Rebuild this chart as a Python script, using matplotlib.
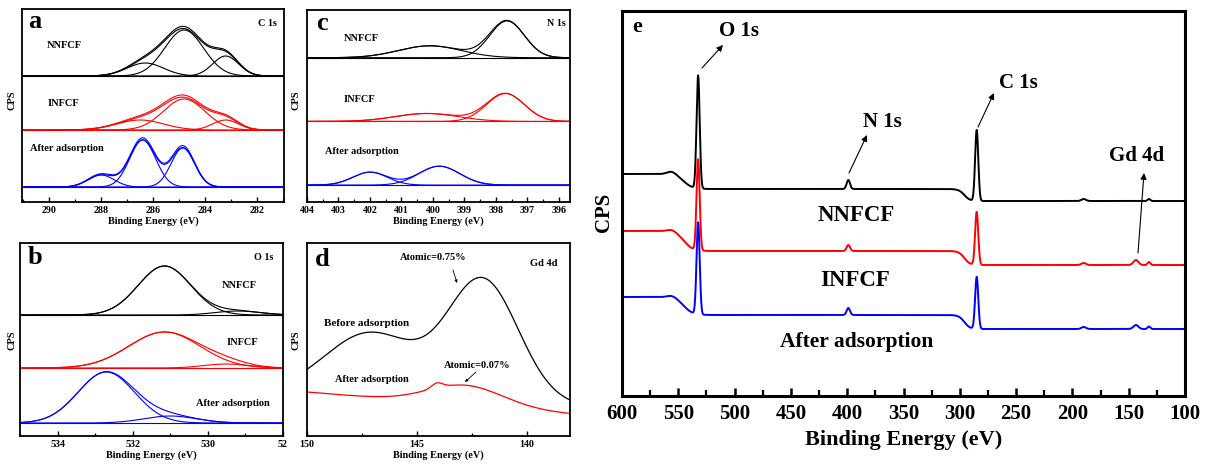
import numpy as np
import matplotlib
matplotlib.use("Agg")
import matplotlib.pyplot as plt
from matplotlib.ticker import MultipleLocator, FixedLocator

plt.rcParams['font.family'] = ['Liberation Serif', 'DejaVu Serif']
plt.rcParams['font.weight'] = 'bold'
plt.rcParams['axes.labelweight'] = 'bold'

W, H = 1213, 465

# ---------------- data ----------------
sample_labels = ["NNFCF", "INFCF", "After adsorption"]
trace_colors = ["black", "red", "blue"]

# (a) C 1s fitted components: centre (eV), height, sigma (eV); baseline level
c1s_baseline = [126, 72, 15]
c1s_centers = [[286.3, 284.8, 283.2], [286.5, 284.8, 283.2], [288.0, 286.4, 284.85]]
c1s_heights = [[13, 46, 20], [10, 31, 10], [12, 47, 39]]
c1s_sigmas = [[0.7, 0.75, 0.5], [0.9, 0.8, 0.5], [0.5, 0.5, 0.45]]
c1s_measured_heights = [[14, 48, 21], [11, 33, 11], [13, 49, 41]]

# (b) O 1s
o1s_baseline = [121, 68, 13]
o1s_centers = [[531.15, 529.2], [531.15, 529.5], [532.7, 531.0]]
o1s_heights = [[49, 4], [36, 4], [51, 7]]
o1s_sigmas = [[0.7, 0.6], [0.95, 0.6], [0.75, 0.7]]

# (c) N 1s
n1s_baseline = [145, 81, 17]
n1s_centers = [[400.1, 397.65], [400.2, 397.7], [402.0, 399.8]]
n1s_heights = [[12, 37], [8, 28], [13, 19]]
n1s_sigmas = [[1.0, 0.55], [1.0, 0.6], [0.55, 0.65]]

# (d) Gd 4d: linear background (at 150 eV, at 138 eV) + peaks
gd_labels = ["Before adsorption", "After adsorption"]
gd_background = [(42, 30), (44, 22)]
gd_centers = [[147.1, 142.0], [144.1, 142.8]]
gd_heights = [[64, 121], [5, 20]]
gd_sigmas = [[2.1, 1.61], [0.25, 1.7]]
gd_atomic = ["Atomic=0.75%", "Atomic=0.07%"]

# (e) survey spectra
survey_centers = [556, 532.4, 399, 285, 190, 143.6, 132]
survey_sigmas = [4, 1.4, 1.5, 1.4, 2.0, 2.2, 1.2]
survey_heights = [[3, 113, 9, 71, 2, 0, 2],
                  [2, 91, 6, 53, 2, 5, 3],
                  [2, 92, 7, 52, 2, 4, 2.5]]
# background levels: above O 1s step, between O 1s and C 1s, below C 1s
survey_levels = [[222, 207, 195], [165, 145, 131], [99, 81, 67]]
survey_steps = [(545, 4.0), (296, 2.5)]


def gauss(x, c, h, s):
    return h * np.exp(-0.5 * ((x - c) / s) ** 2)


def sigmoid(z):
    return 1.0 / (1.0 + np.exp(-z))


def add_axes(x0, y0, x1, y1):
    return fig.add_axes([x0 / W, 1 - y1 / H, (x1 - x0) / W, (y1 - y0) / H])


def ftext(px, py, s, size, **kw):
    fig.text(px / W, 1 - py / H, s, fontsize=size, fontweight='bold',
             ha=kw.pop('ha', 'center'), va=kw.pop('va', 'center'), **kw)


def arrow(x0, y0, x1, y1, lw=0.7, head=5):
    fig.add_artist(matplotlib.patches.FancyArrowPatch(
        (x0, H - y0), (x1, H - y1), transform=None,
        arrowstyle='-|>', mutation_scale=head, lw=lw, color='black',
        shrinkA=0, shrinkB=0))


def style_small(ax, xlim, major, minor):
    ax.set_xlim(*xlim)
    ax.set_ylim(0, 193)
    ax.set_yticks([])
    for sp in ax.spines.values():
        sp.set_linewidth(1.3)
    ax.xaxis.set_major_locator(MultipleLocator(major))
    ax.xaxis.set_minor_locator(MultipleLocator(minor))
    ax.tick_params(axis='x', which='major', direction='in', length=3.5,
                   width=1.0, labelsize=7.2, pad=3)
    ax.tick_params(axis='x', which='minor', direction='in', length=2.5, width=0.9)
    for lab in ax.get_xticklabels():
        lab.set_fontweight('bold')
    ax.set_xlabel("Binding Energy (eV)", fontsize=7.4, labelpad=1)


def draw_fit(ax, x, base, centers, heights, sigmas, color, measured=None):
    ax.plot(x, np.full_like(x, base), color=color, lw=0.8)
    total = np.zeros_like(x)
    for c, h, s in zip(centers, heights, sigmas):
        comp = gauss(x, c, h, s)
        total += comp
        ax.plot(x, base + comp, color=color, lw=0.8)
    ax.plot(x, base + total, color=color, lw=0.8)
    if measured is not None:
        meas = sum(gauss(x, c, h, s) for c, h, s in zip(centers, measured, sigmas))
        ax.plot(x, base + meas, color=color, lw=0.8)


fig = plt.figure(figsize=(W / 100, H / 100), dpi=100)

# ---------------- (a) C 1s ----------------
ax_a = add_axes(22, 9, 284, 202)
x = np.linspace(291.05, 280.95, 800)
for i in range(3):
    draw_fit(ax_a, x, c1s_baseline[i], c1s_centers[i], c1s_heights[i],
             c1s_sigmas[i], trace_colors[i], c1s_measured_heights[i])
style_small(ax_a, (291.05, 280.95), 2, 1)
ftext(12, 100, "CPS", 7.5, rotation=90)
ftext(35, 22, "a", 19)
ftext(267, 23, "C 1s", 7.3)
ftext(64, 45, sample_labels[0], 7.5)
ftext(63, 103, sample_labels[1], 7.5)
ftext(67, 148, sample_labels[2], 7.5)

# ---------------- (b) O 1s ----------------
ax_b = add_axes(20, 243, 283, 436)
x = np.linspace(535.0, 528.0, 800)
for i in range(3):
    draw_fit(ax_b, x, o1s_baseline[i], o1s_centers[i], o1s_heights[i],
             o1s_sigmas[i], trace_colors[i])
style_small(ax_b, (535.0, 527.99), 2, 1)
ax_b.xaxis.set_major_locator(FixedLocator([534, 532, 530, 528]))
ax_b.set_xticklabels(["534", "532", "530", "52"])
for lab in ax_b.get_xticklabels():
    lab.set_fontweight('bold')
ftext(12, 340, "CPS", 7.5, rotation=90)
ftext(35, 258, "b", 19)
ftext(264, 257, "O 1s", 7.3)
ftext(239, 285, sample_labels[0], 7.5)
ftext(242, 342, sample_labels[1], 7.5)
ftext(233, 403, sample_labels[2], 7.5)

# ---------------- (c) N 1s ----------------
ax_c = add_axes(307, 10, 570, 202)
x = np.linspace(404.0, 395.65, 800)
for i in range(3):
    draw_fit(ax_c, x, n1s_baseline[i], n1s_centers[i], n1s_heights[i],
             n1s_sigmas[i], trace_colors[i])
style_small(ax_c, (404.0, 395.65), 1, 0.5)
ftext(296, 100, "CPS", 7.5, rotation=90)
ftext(322, 23, "c", 19)
ftext(556, 23, "N 1s", 7.3)
ftext(361, 38, sample_labels[0], 7.5)
ftext(359, 100, sample_labels[1], 7.5)
ftext(362, 152, sample_labels[2], 7.5)

# ---------------- (d) Gd 4d ----------------
ax_d = add_axes(307, 243, 570, 436)
x = np.linspace(150.0, 138.05, 800)
for i, color in enumerate(["black", "red"]):
    b150, b138 = gd_background[i]
    y = b138 + (b150 - b138) * (x - 138.0) / 12.0
    for c, h, s in zip(gd_centers[i], gd_heights[i], gd_sigmas[i]):
        y = y + gauss(x, c, h, s)
    ax_d.plot(x, y, color=color, lw=0.9)
style_small(ax_d, (150.0, 138.05), 5, 2.5)
ftext(296, 340, "CPS", 7.5, rotation=90)
ftext(322, 260, "d", 19)
ftext(544, 264, "Gd 4d", 7.5)
ftext(433, 258, gd_atomic[0], 7.5)
arrow(453, 270, 457, 283, lw=0.6, head=4)
ftext(367, 324, gd_labels[0], 8.0)
ftext(372, 379, gd_labels[1], 7.5)
ftext(477, 365, gd_atomic[1], 7.5)
arrow(476, 372, 465, 382, lw=0.6, head=4)

# ---------------- (e) survey ----------------
ax_e = add_axes(622, 10.7, 1185, 396)
x = np.linspace(600, 100, 4000)
(o_step, o_w), (c_step, c_w) = survey_steps
for i in range(3):
    hi, mid, lo = survey_levels[i]
    y = (lo + (mid - lo) * sigmoid((x - c_step) / c_w)
         + (hi - mid) * sigmoid((x - o_step) / o_w))
    for c, h, s in zip(survey_centers, survey_heights[i], survey_sigmas):
        y = y + gauss(x, c, h, s)
    ax_e.plot(x, y, color=trace_colors[i], lw=1.4)
ax_e.set_xlim(600, 100)
ax_e.set_ylim(0, 385.3)
ax_e.set_yticks([])
for sp in ax_e.spines.values():
    sp.set_linewidth(2.2)
ax_e.xaxis.set_major_locator(MultipleLocator(50))
ax_e.xaxis.set_minor_locator(MultipleLocator(25))
ax_e.tick_params(axis='x', which='major', direction='in', length=6, width=1.8,
                 labelsize=15, pad=6)
ax_e.tick_params(axis='x', which='minor', direction='in', length=4.5, width=1.6)
for lab in ax_e.get_xticklabels():
    lab.set_fontweight('bold')
ax_e.set_xlabel("Binding Energy (eV)", fontsize=16, labelpad=4)
ftext(604, 212, "CPS", 15, rotation=90)
ftext(637, 27, "e", 16)
ftext(739, 31, "O 1s", 15)
arrow(702, 68, 723, 45, lw=0.8, head=9)
ftext(882, 122, "N 1s", 15)
arrow(849, 173, 867, 135, lw=0.8, head=9)
ftext(1018, 83, "C 1s", 15)
arrow(978, 127, 994, 93, lw=0.8, head=9)
ftext(1137, 156, "Gd 4d", 15)
arrow(1138, 253, 1144, 173, lw=0.8, head=9)
ftext(856, 215, sample_labels[0], 16.5)
ftext(855, 281, sample_labels[1], 16.5)
ftext(857, 342, sample_labels[2], 15.5)

fig.savefig("out.png", dpi=100)
